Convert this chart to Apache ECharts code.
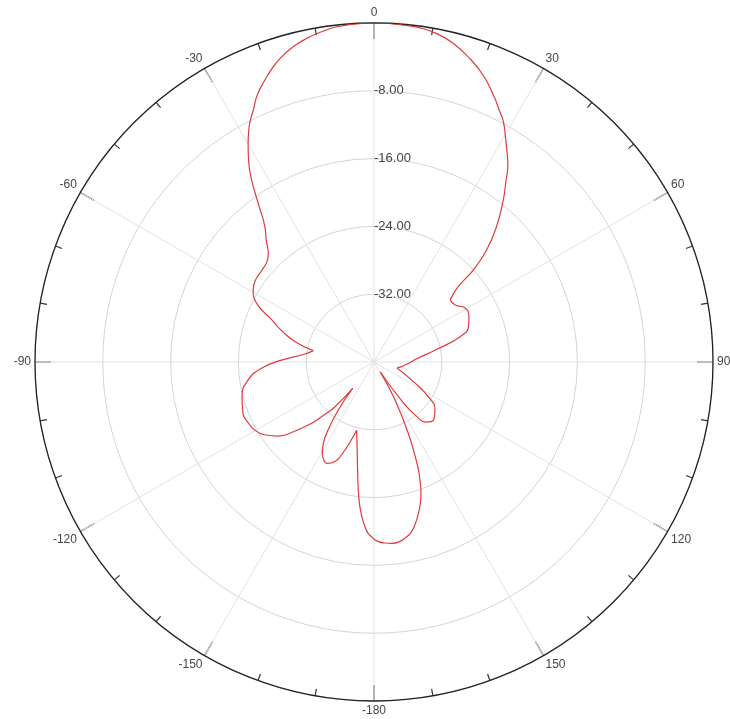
<!DOCTYPE html>
<html>
<head>
<meta charset="utf-8">
<script src="https://cdn.jsdelivr.net/npm/echarts@6/dist/echarts.min.js"></script>
<style>
  html, body { margin: 0; padding: 0; background: #ffffff; }
  #chart { width: 730px; height: 719px; }
</style>
</head>
<body>
<div id="chart"></div>
<script>
// Radiation pattern: azimuth angle (deg, clockwise from top) and gain (dB)
const angles = [
  -180, -179.4, -178, -176.9, -175.5, -174.3, -173, -171.7, -170.6, -168.2,
  -165.7, -164.5, -161.8, -158.6, -155, -152.5, -150.5, -148.3, -146.4, -143.4,
  -141, -138.9, -136.5, -134.5, -131, -127.7, -124, -119.7, -115.5, -111.4,
  -104.7, -98.1, -93.2, -88.8, -83.4, -79.4, -75.6, -71.5, -67.7, -63.4,
  -59.2, -55.4, -50.7, -46.2, -44.2, -41.5, -38.9, -36.1, -33.9, -31.9,
  -29.9, -28.6, -27.3, -25.4, -23.6, -21.5, -19.7, -17.2, -14.4, -11.7,
  -9.0, -6.3, -3, 0, 2.5, 5, 7.8, 10.8, 14, 17.5,
  20.85, 24.1, 26.7, 28.3, 30.5, 31.8, 34.2, 36, 38.6, 42.2,
  45.2, 47.2, 48.2, 50.8, 54.9, 59.4, 64.6, 69.5, 73.6, 78.9,
  86, 92.2, 99.6, 104.5, 115.5, 122.6, 128.2, 134.4, 138.9, 142,
  144.5, 147.5, 151, 154.3, 157.3, 158.7, 160.3, 162.4, 164.9, 167.5,
  170, 172.3, 174.4, 176.5, 178.6, 180
];
const gainDb = [
  -19.1, -19.3, -19.8, -20.5, -21.7, -23.0, -24.8, -26.7, -28.0, -30.2,
  -31.7, -30.9, -29.1, -27.4, -26.8, -27.1, -27.6, -28.6, -29.9, -32.9,
  -36.0, -33.0, -31.3, -29.7, -27.5, -25.7, -24.6, -23.8, -23.5, -23.4,
  -23.9, -25.0, -26.7, -29.1, -31.8, -32.7, -30.4, -28.6, -27.0, -24.5,
  -23.4, -23.0, -22.9, -22.6, -22.1, -20.8, -19.5, -16.8, -14.1, -12.0,
  -10.2, -9.1, -8.1, -6.9, -5.6, -4.5, -3.6, -2.5, -1.6, -1.0,
  -0.55, -0.2, -0.05, 0, -0.02, -0.1, -0.2, -0.55, -1.27, -2.45,
  -3.8, -5.5, -6.95, -7.8, -9.4, -10.3, -11.9, -13.5, -15.55, -18.5,
  -21.3, -24.0, -26.7, -28.4, -28.3, -27.5, -27.6, -28.1, -29.4, -32.6,
  -35.0, -35.9, -36.7, -37.2, -35.1, -32.4, -30.85, -30.2, -30.6, -31.9,
  -34.5, -38.6, -34.9, -30.7, -26.6, -25.1, -23.55, -22.1, -20.7, -19.5,
  -18.9, -18.55, -18.5, -18.6, -18.8, -19.1
];
// Radial scale (dB) and angular scale (deg)
const radiusMin = -40, radiusMax = 0, radiusStep = 8;
const angleStep = 30;

// The angle axis runs 0..360 clockwise from the top so the dB labels sit on
// the upper spoke; negative azimuths are wrapped into 180..360 (+180 and
// -180 are the same direction, so only -180 is kept).
const points = [];
angles.forEach((a, i) => {
  if (a === 180) return;
  points.push([gainDb[i], a < 0 ? a + 360 : a]);
});
points.sort((p, q) => p[1] - q[1]);
points.push([gainDb[angles.indexOf(0)], 360]);

// Nulls are sharp cusps: split the trace at every local minimum and smooth
// each lobe on its own so the cusps stay pointed.
const segments = [];
let current = [points[0]];
for (let i = 1; i < points.length; i++) {
  current.push(points[i]);
  const isNull = i < points.length - 1 &&
    points[i][0] < points[i - 1][0] && points[i][0] < points[i + 1][0];
  if (isNull) {
    segments.push(current);
    current = [points[i]];
  }
}
segments.push(current);

const angleLabel = v => {
  if (v >= 360) return '';
  return String(v >= 180 ? v - 360 : v);
};

const traceStyle = { color: '#e03a3a', width: 1.2 };

const chart = echarts.init(document.getElementById('chart'), null, { renderer: 'canvas' });
chart.setOption({
  backgroundColor: '#ffffff',
  animation: false,
  polar: { center: [374, 362], radius: 339 },
  angleAxis: {
    type: 'value',
    min: 0, max: 360, interval: angleStep,
    startAngle: 90, clockwise: true,
    axisLine: { show: true, lineStyle: { color: '#222', width: 1.3 } },
    axisTick: { show: true, inside: true, length: 16, lineStyle: { color: '#333', width: 1.2 } },
    minorTick: { show: true, splitNumber: 3, length: 7, lineStyle: { color: '#333', width: 1.2 } },
    axisLabel: {
      show: true, margin: 4, color: '#444', fontSize: 12,
      fontFamily: 'Liberation Sans, Arial, sans-serif',
      formatter: angleLabel
    },
    splitLine: { show: true, lineStyle: { color: '#e2e2e2', width: 1 } },
    minorSplitLine: { show: false }
  },
  radiusAxis: {
    type: 'value',
    min: radiusMin, max: radiusMax, interval: radiusStep,
    axisLine: { show: false },
    axisTick: { show: false },
    axisLabel: {
      show: true, color: '#444', fontSize: 13, align: 'left', margin: 0,
      fontFamily: 'Liberation Sans, Arial, sans-serif',
      formatter: v => (v === radiusMin || v === radiusMax ? '' : v.toFixed(2))
    },
    splitLine: { show: true, lineStyle: { color: '#d4d4d4', width: 1 } }
  },
  series: segments.map(seg => ({
    type: 'line',
    coordinateSystem: 'polar',
    data: seg,
    showSymbol: false,
    smooth: 0.5,
    lineStyle: traceStyle
  }))
});
</script>
</body>
</html>
